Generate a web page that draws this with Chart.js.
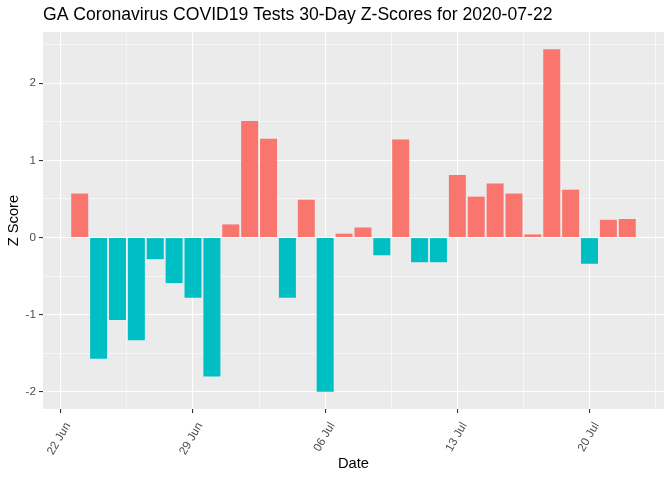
<!DOCTYPE html>
<html>
<head>
<meta charset="utf-8">
<script src="https://cdn.jsdelivr.net/npm/chart.js@4/dist/chart.umd.min.js"></script>
<style>
  body { margin: 0; background: #fff; }
  #wrap { width: 672px; height: 480px; }
</style>
</head>
<body>
<div id="wrap"><canvas id="myChart"></canvas></div>
<script>
// the 30 days of the window and their z-scores
const dates = ["2020-06-23", "2020-06-24", "2020-06-25", "2020-06-26", "2020-06-27",
  "2020-06-28", "2020-06-29", "2020-06-30", "2020-07-01", "2020-07-02",
  "2020-07-03", "2020-07-04", "2020-07-05", "2020-07-06", "2020-07-07",
  "2020-07-08", "2020-07-09", "2020-07-10", "2020-07-11", "2020-07-12",
  "2020-07-13", "2020-07-14", "2020-07-15", "2020-07-16", "2020-07-17",
  "2020-07-18", "2020-07-19", "2020-07-20", "2020-07-21", "2020-07-22"];
const zScores = [0.57, -1.57, -1.07, -1.33, -0.28, -0.59, -0.78, -1.80, 0.17, 1.51,
  1.28, -0.78, 0.49, -2.00, 0.05, 0.13, -0.23, 1.27, -0.32, -0.32,
  0.81, 0.53, 0.70, 0.57, 0.04, 2.44, 0.62, -0.34, 0.23, 0.24];
// date axis breaks
const tickDates = ["2020-06-22", "2020-06-29", "2020-07-06", "2020-07-13", "2020-07-20"];
const tickLabels = ["22 Jun", "29 Jun", "06 Jul", "13 Jul", "20 Jul"];
const yTicks = [-2, -1, 0, 1, 2];

// x is measured in days from the first break
const DAY = 86400000;
const origin = Date.parse(tickDates[0]);
function dayNum(s) { return Math.round((Date.parse(s) - origin) / DAY); }

const points = dates.map((d, i) => ({ x: dayNum(d), y: zScores[i] }));
const xMajor = tickDates.map(dayNum);

// ggplot style padding: bars are 0.9 wide, then 5% expansion
const firstX = points[0].x, lastX = points[points.length - 1].x;
const span = (lastX + 0.45) - (firstX - 0.45);
const xMin = firstX - 0.45 - span * 0.05;
const xMax = lastX + 0.45 + span * 0.05;
const yLo = Math.min(0, ...zScores), yHi = Math.max(0, ...zScores);
const yMin = yLo - (yHi - yLo) * 0.05;
const yMax = yHi + (yHi - yLo) * 0.05;

// major + minor (half way) breaks inside the range
function withMinor(major, lo, hi) {
  const step = major[1] - major[0];
  let out = [];
  for (let v = major[0] - step; v <= major[major.length - 1] + step; v += step / 2) {
    if (v >= lo && v <= hi) out.push({ value: v });
  }
  return out;
}
function isMajor(list, v) { return list.some(m => Math.abs(m - v) < 1e-6); }

// grey panel behind the bars
const panelBg = {
  id: 'panelBg',
  beforeDraw(chart) {
    const { ctx, chartArea: a } = chart;
    ctx.save();
    ctx.fillStyle = '#EBEBEB';
    ctx.fillRect(a.left, a.top, a.right - a.left, a.bottom - a.top);
    ctx.restore();
  }
};

const data = {
  datasets: [{
    data: points,
    backgroundColor: c => (c.raw && c.raw.y >= 0) ? '#F8766D' : '#00BFC4',
    borderWidth: 0,
    barPercentage: 0.9,
    categoryPercentage: 1.0
  }]
};

const config = {
  type: 'bar',
  data: data,
  plugins: [panelBg],
  options: {
    responsive: true,
    maintainAspectRatio: false,
    animation: false,
    layout: { padding: { left: 0, right: 8, top: 0, bottom: 0 } },
    plugins: {
      legend: { display: false },
      tooltip: { enabled: false },
      title: {
        display: true,
        text: 'GA Coronavirus COVID19 Tests 30-Day Z-Scores for 2020-07-22',
        align: 'start',
        fullSize: false,
        color: '#000',
        font: { family: 'Liberation Sans, Arial, sans-serif', size: 17.6, weight: 'normal', lineHeight: 1.2 },
        padding: { top: 5, bottom: 6 }
      }
    },
    scales: {
      x: {
        type: 'linear',
        min: xMin,
        max: xMax,
        offset: false,
        afterBuildTicks: s => { s.ticks = withMinor(xMajor, xMin, xMax); },
        // fixed height, and no extra side room for the rotated labels
        afterFit: s => { s.height = 71; s.paddingLeft = 0; s.paddingRight = 0; },
        border: { display: false },
        grid: {
          offset: false,
          color: '#FFFFFF',
          lineWidth: c => isMajor(xMajor, c.tick.value) ? 1.1 : 0.55,
          tickColor: c => isMajor(xMajor, c.tick.value) ? '#333333' : 'rgba(0,0,0,0)',
          tickWidth: 1.1,
          tickLength: 4
        },
        ticks: {
          autoSkip: false,
          minRotation: 60,
          maxRotation: 60,
          padding: 7,
          labelOffset: 7,
          color: '#4D4D4D',
          font: { family: 'Liberation Sans, Arial, sans-serif', size: 11.7 },
          callback: v => {
            const i = xMajor.findIndex(m => Math.abs(m - v) < 1e-6);
            return i >= 0 ? tickLabels[i] : '';
          }
        },
        title: {
          display: true,
          text: 'Date',
          color: '#000',
          font: { family: 'Liberation Sans, Arial, sans-serif', size: 14.7 },
          padding: { top: 0, bottom: 7 }
        }
      },
      y: {
        min: yMin,
        max: yMax,
        afterBuildTicks: s => { s.ticks = withMinor(yTicks, yMin, yMax); },
        afterFit: s => { s.width = 43; },
        border: { display: false },
        grid: {
          color: '#FFFFFF',
          lineWidth: c => isMajor(yTicks, c.tick.value) ? 1.1 : 0.55,
          tickColor: c => isMajor(yTicks, c.tick.value) ? '#333333' : 'rgba(0,0,0,0)',
          tickWidth: 1.1,
          tickLength: 4
        },
        ticks: {
          autoSkip: false,
          padding: 3,
          color: '#4D4D4D',
          font: { family: 'Liberation Sans, Arial, sans-serif', size: 11.7 },
          callback: v => isMajor(yTicks, v) ? String(Math.round(v)) : ''
        },
        title: {
          display: true,
          text: 'Z Score',
          color: '#000',
          font: { family: 'Liberation Sans, Arial, sans-serif', size: 14.7 },
          padding: { top: 5, bottom: 0 }
        }
      }
    }
  }
};

const ctx = document.getElementById("myChart").getContext("2d");
const myChart = new Chart(ctx, config);
</script>
</body>
</html>
